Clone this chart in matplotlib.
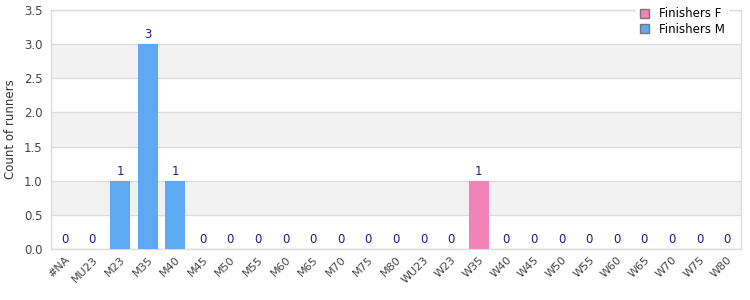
import matplotlib
matplotlib.use("Agg")
import matplotlib.pyplot as plt
import numpy as np

categories = ["#NA", "MU23", "M23", "M35", "M40", "M45", "M50", "M55", "M60", "M65",
              "M70", "M75", "M80", "WU23", "W23", "W35", "W40", "W45", "W50", "W55",
              "W60", "W65", "W70", "W75", "W80"]
finishers_f = [0, 0, 0, 0, 0, 0, 0, 0, 0, 0, 0, 0, 0, 0, 0, 1, 0, 0, 0, 0, 0, 0, 0, 0, 0]
finishers_m = [0, 0, 1, 3, 1, 0, 0, 0, 0, 0, 0, 0, 0, 0, 0, 0, 0, 0, 0, 0, 0, 0, 0, 0, 0]

plt.rcParams['font.family'] = ['DejaVu Sans']
fig = plt.figure(figsize=(7.5, 3.0), dpi=100)
ax = fig.add_axes([51/750, 1 - 249/300, 690/750, 239/300])

x = np.arange(len(categories))
f = np.array(finishers_f)
m = np.array(finishers_m)
w = 0.72
ax.bar(x, f, width=w, color="#f283b6", zorder=3, label="Finishers F")
ax.bar(x, m, width=w, bottom=f, color="#5fa8f2", zorder=3, label="Finishers M")

ax.set_xlim(-0.5, len(categories) - 0.5)
ax.set_ylim(0, 3.5)
for lo in [0.5, 1.5, 2.5]:
    ax.axhspan(lo, lo + 0.5, color="#f2f2f2", zorder=0, lw=0)
ax.set_yticks(np.arange(0, 3.51, 0.5))
ax.set_yticklabels([f"{v:.1f}" for v in np.arange(0, 3.51, 0.5)])
ax.yaxis.grid(True, color="#dddddd", lw=1, zorder=1)
ax.set_axisbelow(True)

tot = f + m
for xi, t in zip(x, tot):
    ax.text(xi, t + 0.04, f"{int(t)}", ha="center", va="bottom", fontsize=8.5,
            color="#1a1a8c", zorder=4)

ax.set_xticks(x)
ax.set_xticklabels(categories, rotation=45, ha="right", rotation_mode="anchor",
                   fontsize=8, color="#444444")
ax.tick_params(axis="x", length=0, pad=4)
ax.tick_params(axis="y", length=0, labelsize=8.5, colors="#444444", pad=6)
for s in ax.spines.values():
    s.set_color("#dddddd")
    s.set_linewidth(1)

ax.set_ylabel("Count of runners", fontsize=8.5, color="#333333", labelpad=5)

leg = ax.legend(loc="upper right", bbox_to_anchor=(0.99, 1.05), fontsize=8.5,
                frameon=True, fancybox=False, borderpad=0.3, handlelength=0.8,
                handleheight=0.8, handletextpad=0.8, labelspacing=0.2)
leg.get_frame().set_facecolor("white")
leg.get_frame().set_edgecolor("white")
leg.get_frame().set_alpha(1)
leg.set_zorder(10)
for h in leg.legend_handles:
    h.set_edgecolor("#777777")
    h.set_linewidth(1)

fig.savefig("out.png", dpi=100)
